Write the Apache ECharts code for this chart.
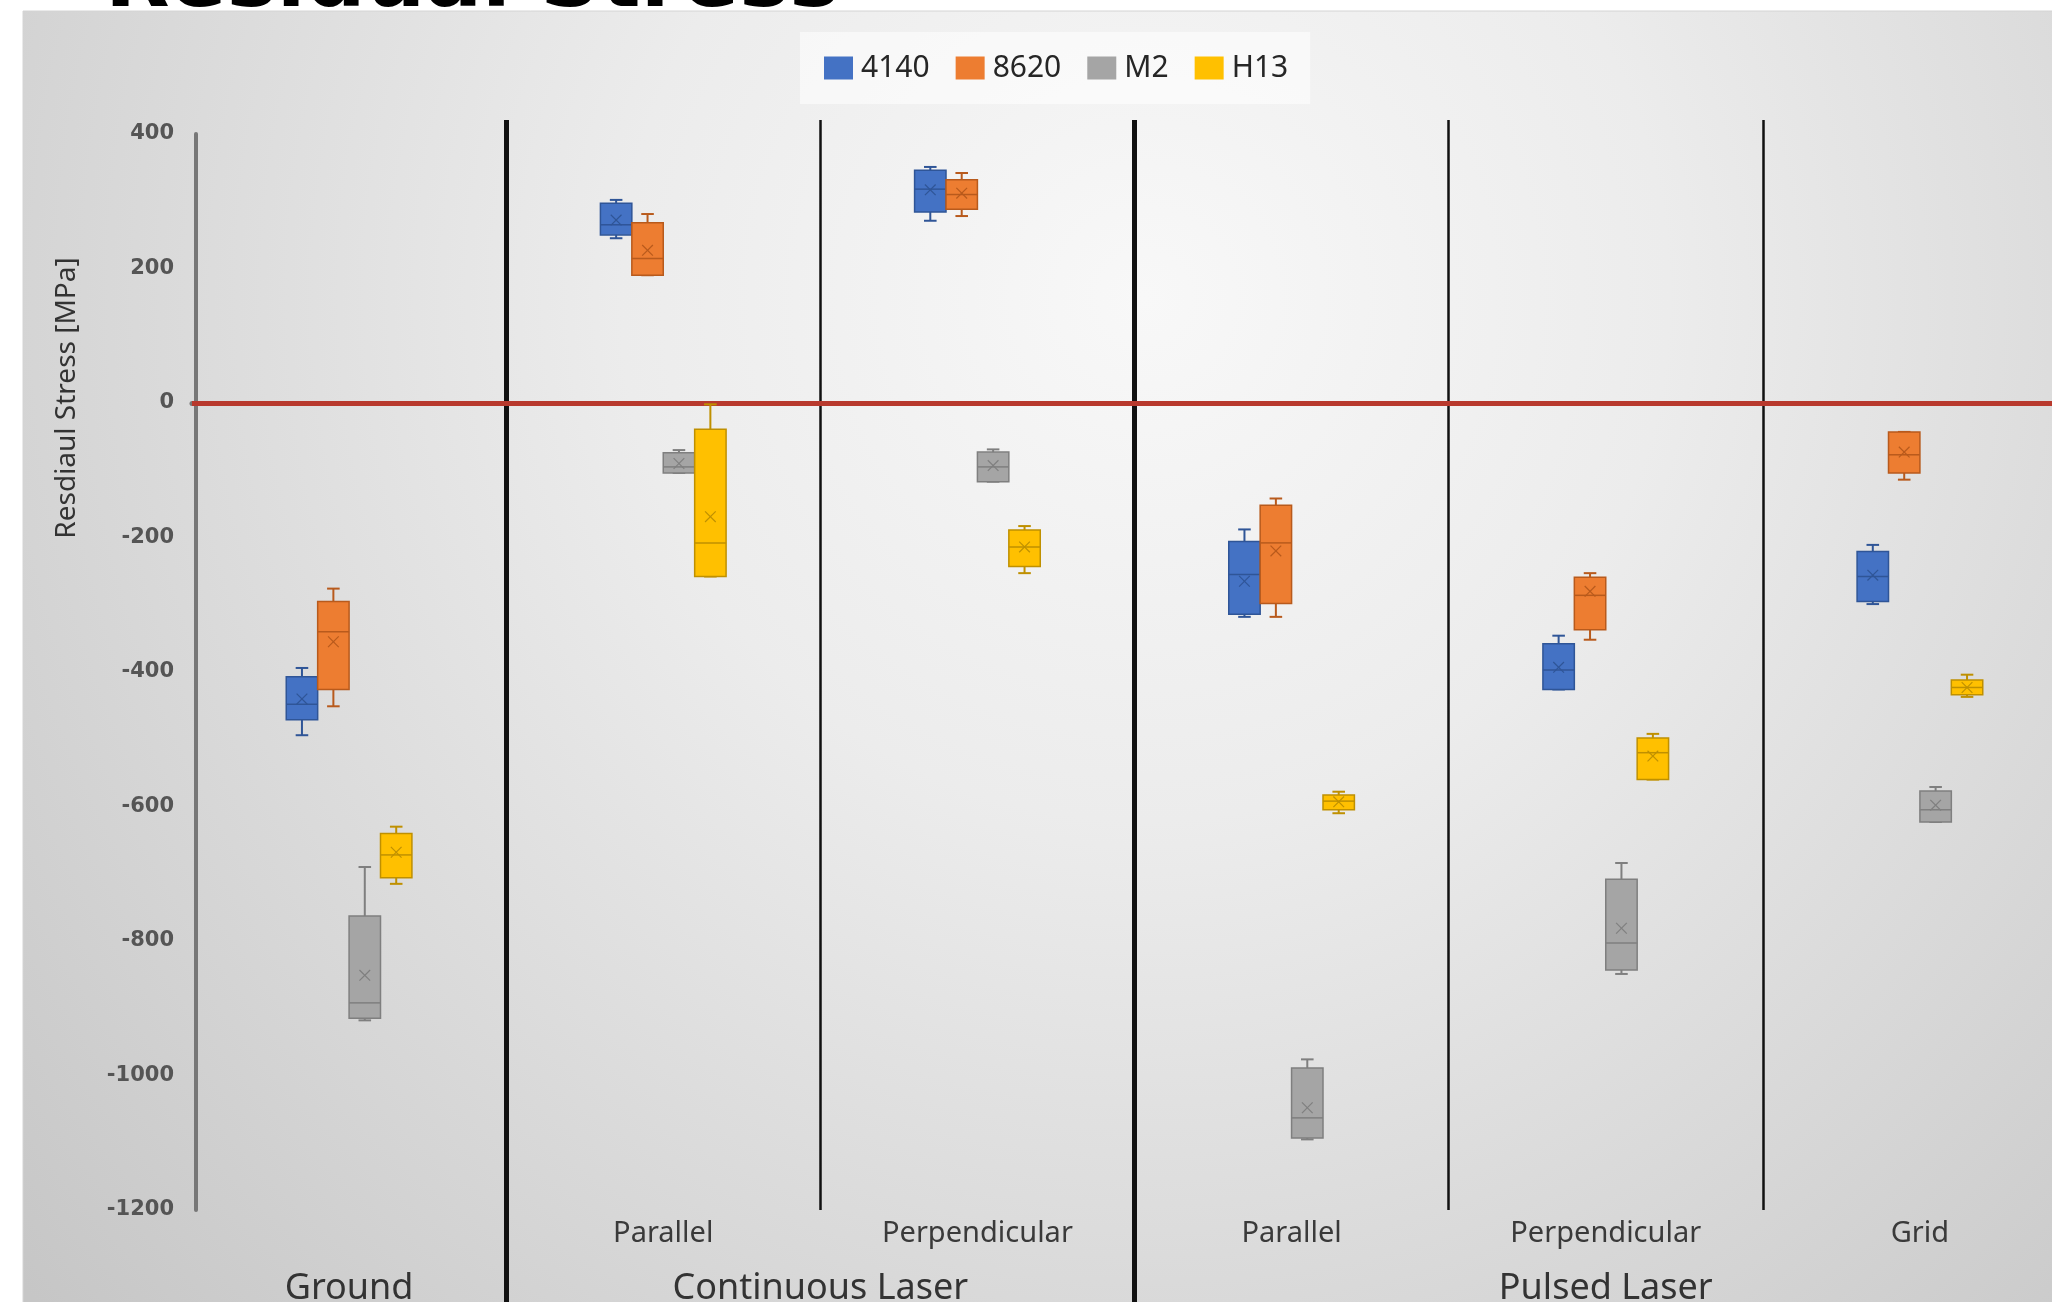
<!DOCTYPE html>
<html>
<head>
<meta charset="utf-8">
<script src="https://cdn.jsdelivr.net/npm/echarts@6.0.0/dist/echarts.min.js"></script>
<style>
  html, body { margin: 0; padding: 0; background: #ffffff; overflow: hidden; }
  #chart { width: 2052px; height: 1302px; }
</style>
</head>
<body>
<div id="chart"></div>
<script>
// Surface treatments (first axis level) and processes (second axis level)
const treatments = ['', 'Parallel', 'Perpendicular', 'Parallel', 'Perpendicular', 'Grid'];
// half-category slots: Ground under slot 1, Continuous Laser on slot 4, Pulsed Laser on slot 9
const processLabels = ['', 'Ground', '', '', 'Continuous Laser', '', '', '', '', 'Pulsed Laser', '', '', ''];
const materials = ['4140', '8620', 'M2', 'H13'];
const yMin = -1200, yMax = 400, yStep = 200;

// Residual stress per treatment: [min, Q1, median, Q3, max, mean] in MPa
const steel4140 = [
  [-494, -471, -448, -407, -394, -440],
  [245, 250, 265, 297, 302, 272],
  [271, 284, 318, 346, 351, 317],
  [-318, -314, -255, -206, -188, -265],
  [-426, -426, -397, -358, -346, -393],
  [-299, -295, -258, -221, -211, -256]
];
const steel8620 = [
  [-451, -426, -340, -295, -276, -355],
  [190, 190, 215, 268, 281, 227],
  [278, 288, 310, 332, 342, 312],
  [-318, -298, -208, -152, -142, -220],
  [-352, -337, -286, -259, -253, -280],
  [-114, -104, -77, -43, -43, -73]
];
const steelM2 = [
  [-918, -915, -892, -763, -690, -851],
  [-104, -104, -95, -74, -70, -90],
  [-117, -117, -95, -73, -69, -93],
  [-1095, -1093, -1063, -989, -976, -1048],
  [-849, -843, -803, -708, -684, -781],
  [-623, -623, -605, -577, -571, -598]
];
const steelH13 = [
  [-715, -706, -672, -640, -630, -668],
  [-258, -258, -208, -39, -2, -169],
  [-253, -243, -214, -189, -183, -214],
  [-610, -605, -592, -583, -578, -593],
  [-560, -560, -520, -498, -492, -525],
  [-437, -434, -423, -412, -404, -423]
];

const seriesValues = [steel4140, steel8620, steelM2, steelH13];
const fills = ['#4472C4', '#ED7D31', '#A5A5A5', '#FFC000'];
const edges = ['#2F5597', '#B85A1C', '#7F7F7F', '#BF9000'];

// Box-and-whisker glyph with median line and mean cross, offset by material index
function boxRenderer(k) {
  return function (params, api) {
    const cat = api.value(0);
    const band = api.size([1, 0])[0];
    const w = band * 0.1;
    const cx = api.coord([cat, 0])[0] + (k - 1.5) * w;
    const py = v => api.coord([cat, v])[1];
    const pMin = py(api.value(1)), pQ1 = py(api.value(2)), pMed = py(api.value(3));
    const pQ3 = py(api.value(4)), pMax = py(api.value(5)), pMean = py(api.value(6));
    const cap = w * 0.4, m = w * 0.17;
    const ln = (x1, y1, x2, y2, width) => ({
      type: 'line', shape: { x1, y1, x2, y2 },
      style: { stroke: edges[k], lineWidth: width || 1.5 }
    });
    return {
      type: 'group',
      children: [
        ln(cx, pMax, cx, pQ3, 2),
        ln(cx, pQ1, cx, pMin, 2),
        ln(cx - cap / 2, pMax, cx + cap / 2, pMax, 2),
        ln(cx - cap / 2, pMin, cx + cap / 2, pMin, 2),
        {
          type: 'rect',
          shape: { x: cx - w / 2, y: pQ3, width: w, height: Math.max(pQ1 - pQ3, 1) },
          style: { fill: fills[k], stroke: edges[k], lineWidth: 1.5 }
        },
        ln(cx - w / 2, pMed, cx + w / 2, pMed, 1.5),
        ln(cx - m, pMean - m, cx + m, pMean + m, 1.2),
        ln(cx - m, pMean + m, cx + m, pMean - m, 1.2)
      ]
    };
  };
}

const series = materials.map((name, k) => ({
  name,
  type: 'custom',
  xAxisIndex: 0,
  yAxisIndex: 0,
  itemStyle: { color: fills[k] },
  encode: { x: 0, y: [1, 2, 3, 4, 5] },
  renderItem: boxRenderer(k),
  data: seriesValues[k].map((r, i) => [i].concat(r)),
  z: 5
}));

// zero-stress reference line
series[0].markLine = {
  silent: true,
  symbol: ['none', 'none'],
  label: { show: false },
  lineStyle: { color: '#B8392D', width: 5, type: 'solid' },
  data: [{ yAxis: 0 }]
};

const chart = echarts.init(document.getElementById('chart'), null, { renderer: 'canvas' });

const gridLeft = 192, gridWidth = 1885, gridBottom = 92;

chart.setOption({
  backgroundColor: '#ffffff',
  animation: false,
  graphic: [
    {
      type: 'rect',
      z: -100,
      shape: { x: 23, y: 11, width: 2040, height: 1300 },
      style: {
        fill: new echarts.graphic.RadialGradient(0.55, 0.22, 1.15, [
          { offset: 0, color: '#f8f8f8' },
          { offset: 0.35, color: '#ececec' },
          { offset: 1, color: '#c6c6c6' }
        ]),
        stroke: '#d4d4d4',
        lineWidth: 1
      }
    },
    {
      type: 'text',
      z: 100,
      x: 105,
      y: -16,
      style: {
        text: 'Residual Stress',
        font: 'bold 84px "DejaVu Sans"',
        fill: '#000000',
        align: 'left',
        verticalAlign: 'middle'
      }
    },
    {
      type: 'text',
      z: 100,
      x: 67,
      y: 398,
      rotation: Math.PI / 2,
      style: {
        text: 'Resdiaul Stress [MPa]',
        font: '28px "Noto Sans"',
        fill: '#333333',
        align: 'center',
        verticalAlign: 'middle'
      }
    }
  ],
  legend: {
    data: materials,
    left: 800,
    top: 32,
    icon: 'rect',
    itemWidth: 29,
    itemHeight: 23,
    itemGap: 26,
    padding: [21, 22, 21, 24],
    backgroundColor: 'rgba(255,255,255,0.55)',
    textStyle: { fontFamily: 'Noto Sans', fontSize: 30, color: '#262626', padding: [0, 0, 0, 3] }
  },
  grid: [
    // plotting area
    { left: gridLeft, top: 134, width: gridWidth, bottom: gridBottom, containLabel: false, outerBoundsMode: 'none' },
    // group separators, reaching a little above the plotting area
    { left: gridLeft, top: 120, width: gridWidth, bottom: gridBottom, containLabel: false, outerBoundsMode: 'none' }
  ],
  xAxis: [
    {
      gridIndex: 0,
      type: 'category',
      data: treatments,
      position: 'bottom',
      boundaryGap: true,
      axisLine: { show: true, lineStyle: { color: '#777777', width: 5 } },
      axisTick: { show: false },
      splitLine: { show: false },
      axisLabel: {
        interval: 0,
        margin: 9,
        fontFamily: 'Noto Sans',
        fontSize: 29,
        color: '#3a3a3a'
      }
    },
    {
      gridIndex: 0,
      type: 'category',
      data: processLabels,
      position: 'bottom',
      boundaryGap: false,
      axisLine: { show: false },
      axisTick: { show: false },
      splitLine: { show: false },
      axisLabel: {
        interval: 0,
        margin: 61,
        fontFamily: 'Noto Sans',
        fontSize: 36,
        color: '#333333'
      }
    },
    {
      gridIndex: 1,
      type: 'category',
      data: treatments,
      position: 'bottom',
      boundaryGap: true,
      axisLine: { show: false },
      axisLabel: { show: false },
      axisTick: {
        show: true,
        interval: (i) => i === 1 || i === 3,
        length: 92,
        lineStyle: { color: '#111111', width: 5 }
      },
      splitLine: {
        show: true,
        interval: (i) => i === 1 || i === 3,
        lineStyle: { color: '#111111', width: 5 }
      },
      z: 3
    },
    {
      gridIndex: 1,
      type: 'category',
      data: treatments,
      position: 'bottom',
      boundaryGap: true,
      axisLine: { show: false },
      axisTick: { show: false },
      axisLabel: { show: false },
      splitLine: {
        show: true,
        interval: (i) => i === 2 || i === 4 || i === 5,
        lineStyle: { color: '#111111', width: 2.5 }
      }
    }
  ],
  yAxis: [
    {
      gridIndex: 0,
      type: 'value',
      min: yMin,
      max: yMax,
      interval: yStep,
      offset: -4,
      axisLine: { show: true, lineStyle: { color: '#777777', width: 4 } },
      axisTick: { show: false },
      splitLine: { show: false },
      axisLabel: {
        margin: 22,
        fontFamily: 'DejaVu Sans',
        fontWeight: 'bold',
        fontSize: 21,
        color: '#555555',
        formatter: (v) => String(v)
      },
      z: 4
    },
    {
      gridIndex: 1,
      type: 'value',
      min: 0,
      max: 1,
      show: false
    }
  ],
  series
});
</script>
</body>
</html>
